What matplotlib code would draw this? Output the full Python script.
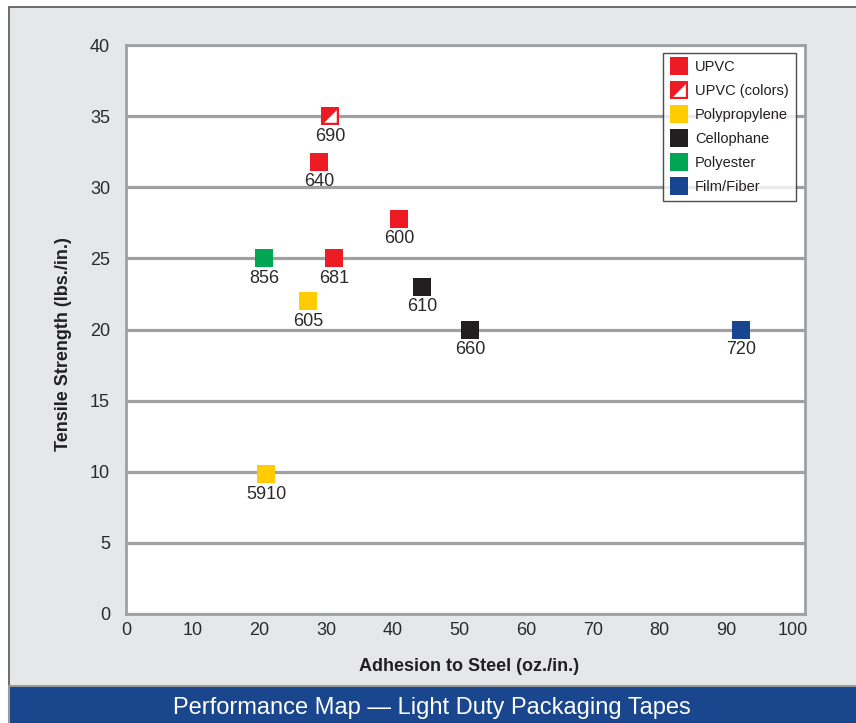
import matplotlib
matplotlib.use("Agg")
import matplotlib.pyplot as plt
from matplotlib import font_manager
from matplotlib.patches import Rectangle
from matplotlib.legend_handler import HandlerTuple

names = {f.name for f in font_manager.fontManager.ttflist}
FONT = [n for n in ["Liberation Sans Narrow", "Liberation Sans", "DejaVu Sans"] if n in names]
plt.rcParams['font.family'] = FONT

# ---- data ----
series_names = ["UPVC", "UPVC (colors)", "Polypropylene", "Cellophane", "Polyester", "Film/Fiber"]
series_colors = ["#ed1c24", "#ed1c24", "#ffcc00", "#231f20", "#00a651", "#17458f"]

upvc_x = [28.95, 40.95, 31.25]
upvc_y = [31.8, 27.8, 25.0]
upvc_lbl = ["640", "600", "681"]

upvcc_x = [30.6]
upvcc_y = [35.0]
upvcc_lbl = ["690"]

pp_x = [27.35, 21.05]
pp_y = [22.0, 9.85]
pp_lbl = ["605", "5910"]

cello_x = [44.45, 51.65]
cello_y = [23.0, 20.0]
cello_lbl = ["610", "660"]

poly_x = [20.75]
poly_y = [25.0]
poly_lbl = ["856"]

film_x = [92.2]
film_y = [20.0]
film_lbl = ["720"]

x_ticks = [0, 10, 20, 30, 40, 50, 60, 70, 80, 90, 100]
y_ticks = [0, 5, 10, 15, 20, 25, 30, 35, 40]

# ---- figure ----
fig = plt.figure(figsize=(8.56, 7.23), dpi=100)
fig.patch.set_facecolor("white")
W, H = 856, 723
# gray panel
fig.patches.append(Rectangle((9 / W, 37 / H), 1 - 9 / W + 0.01, (686 - 7) / H,
                             transform=fig.transFigure, facecolor="#e6e7e8",
                             edgecolor="#555555", linewidth=1.2, zorder=-2))
# blue bar
fig.patches.append(Rectangle((9 / W, -0.01), 1, 37 / H + 0.01,
                             transform=fig.transFigure, facecolor="#1a468d",
                             edgecolor="#9a9a9a", linewidth=1.5, zorder=-1))
fig.text(0.505, 15 / H, "Performance Map \u2014 Light Duty Packaging Tapes",
         color="white", fontsize=17, ha="center", va="center")

ax = fig.add_axes([126 / W, (723 - 614) / H, (805 - 126) / W, (614 - 45) / H])
ax.set_zorder(1)
ax.set_facecolor("white")
ax.set_xlim(0, 101.85)
ax.set_ylim(0, 40)
ax.set_xticks(x_ticks)
ax.set_yticks(y_ticks)
ax.tick_params(length=0, labelsize=13, colors="#2a2a2a")
ax.tick_params(axis="y", pad=11.5)
ax.tick_params(axis="x", pad=6)
for s in ax.spines.values():
    s.set_color("#a0a0a0")
    s.set_linewidth(2)
ax.yaxis.grid(True, color="#a0a0a0", linewidth=2.3)
ax.set_axisbelow(True)

ax.set_xlabel("Adhesion to Steel (oz./in.)", fontsize=13, fontweight="bold", color="#231f20")
ax.xaxis.set_label_coords(0.505, -0.077)
ax.set_ylabel("Tensile Strength (lbs./in.)", fontsize=13, fontweight="bold", color="#231f20")
ax.yaxis.set_label_coords(-0.08, 0.475)

MS = 12.5
groups = [
    (upvc_x, upvc_y, upvc_lbl, series_colors[0]),
    (pp_x, pp_y, pp_lbl, series_colors[2]),
    (cello_x, cello_y, cello_lbl, series_colors[3]),
    (poly_x, poly_y, poly_lbl, series_colors[4]),
    (film_x, film_y, film_lbl, series_colors[5]),
]
handles = {}
for (xs, ys, lbls, c), name in zip(groups, ["UPVC", "Polypropylene", "Cellophane", "Polyester", "Film/Fiber"]):
    h, = ax.plot(xs, ys, linestyle="none", marker="s", markersize=MS,
                 markerfacecolor=c, markeredgewidth=0, zorder=3)
    handles[name] = h
    for x, y, t in zip(xs, ys, lbls):
        ax.annotate(t, (x, y), xytext=(0, -14.5), textcoords="offset points",
                    ha="center", va="center", fontsize=13, color="#2a2a2a", zorder=4)

tri = [(-1, -1), (1, -1), (1, 1), (-1, -1)]
h1, = ax.plot(upvcc_x, upvcc_y, linestyle="none", marker="s", markersize=MS,
              markerfacecolor=series_colors[1], markeredgewidth=0, zorder=3)
h2, = ax.plot(upvcc_x, upvcc_y, linestyle="none", marker=tri, markersize=MS * 0.72,
              markerfacecolor="white", markeredgewidth=0, zorder=3.5)
for x, y, t in zip(upvcc_x, upvcc_y, upvcc_lbl):
    ax.annotate(t, (x, y), xytext=(0, -14.5), textcoords="offset points",
                ha="center", va="center", fontsize=13, color="#2a2a2a", zorder=4)
handles["UPVC (colors)"] = (h1, h2)

leg = ax.legend([handles[n] for n in series_names], series_names,
                loc="upper right", bbox_to_anchor=(0.9865, 0.986), borderaxespad=0,
                handler_map={tuple: HandlerTuple(ndivide=1, pad=0)},
                fontsize=10.5, frameon=True, fancybox=False, borderpad=0.5,
                labelspacing=0.68, handlelength=1.1, handletextpad=0.55,
                markerscale=1.02)
leg.get_frame().set_edgecolor("#231f20")
leg.get_frame().set_linewidth(1.0)
for t in leg.get_texts():
    t.set_color("#231f20")

fig.savefig("out.png", dpi=100)
